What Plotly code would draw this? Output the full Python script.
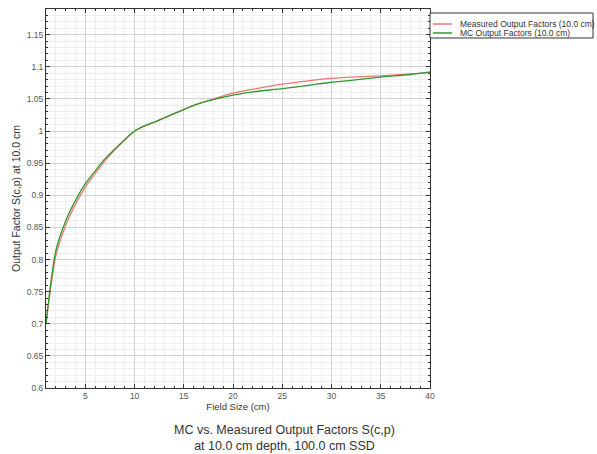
import plotly.graph_objects as go

# Field sizes (cm) and output factors S(c,p) at 10.0 cm depth
field_size = [1, 1.5, 2, 3, 4, 5, 6, 7, 8, 9, 10, 11, 12, 14, 16, 18, 20,
              22, 25, 28, 30, 32, 35, 38, 40]
measured_of = [0.700, 0.758, 0.806, 0.853, 0.886, 0.913, 0.934, 0.954, 0.971,
               0.986, 1.000, 1.008, 1.014, 1.027, 1.040, 1.050, 1.059,
               1.065, 1.073, 1.079, 1.082, 1.084, 1.086, 1.089, 1.091]
mc_of = [0.700, 0.765, 0.814, 0.860, 0.892, 0.918, 0.938, 0.957, 0.972,
         0.987, 1.000, 1.008, 1.014, 1.027, 1.040, 1.049, 1.056,
         1.061, 1.066, 1.072, 1.076, 1.079, 1.084, 1.088, 1.092]

series_names = ["Measured Output Factors (10.0 cm)", "MC Output Factors (10.0 cm)"]
series_colors = ["#ee7676", "#2f9a2f"]

font_family = "Liberation Sans, Arial, sans-serif"

fig = go.Figure()
for name, vals, color in zip(series_names, [measured_of, mc_of], series_colors):
    fig.add_trace(go.Scatter(
        x=field_size, y=vals, mode="lines", name=name, showlegend=False,
        line=dict(color=color, width=1.3, shape="spline", smoothing=0.6),
    ))

axis_common = dict(
    showline=True, linecolor="#333333", linewidth=1, mirror="allticks",
    ticks="inside", ticklen=4, tickcolor="#333333",
    showgrid=True, gridcolor="#d2d2d2", gridwidth=1,
    zeroline=False,
    tickfont=dict(family=font_family, size=8.5, color="#555555"),
)

fig.update_xaxes(
    range=[1, 40], tick0=0, dtick=5,
    minor=dict(dtick=1, ticks="inside", ticklen=2, tickcolor="#333333",
               showgrid=True, gridcolor="#eeeeee", gridwidth=1),
    title=dict(text="Field Size (cm)", font=dict(family=font_family, size=9.5, color="#333333"),
               standoff=3),
    **axis_common,
)
fig.update_yaxes(
    range=[0.6, 1.19], tick0=0.6, dtick=0.05,
    minor=dict(dtick=0.01, ticks="inside", ticklen=2, tickcolor="#333333",
               showgrid=True, gridcolor="#eeeeee", gridwidth=1),
    title=dict(text="Output Factor S(c,p) at 10.0 cm",
               font=dict(family=font_family, size=10.5, color="#333333"), standoff=4),
    **axis_common,
)

# Chart title beneath the axes
fig.add_annotation(
    text="MC vs. Measured Output Factors S(c,p)<br>at 10.0 cm depth, 100.0 cm SSD",
    xref="paper", yref="paper", x=0.62, y=-0.087, xanchor="center", yanchor="top",
    showarrow=False, align="center",
    font=dict(family=font_family, size=12.5, color="#333333"),
)

# Compact legend box to the right of the plot area
leg_x0, leg_x1 = 1.0, 1.4245
leg_y0, leg_y1 = 0.9235, 0.9894
fig.add_shape(type="rect", xref="paper", yref="paper",
              x0=leg_x0, x1=leg_x1, y0=leg_y0, y1=leg_y1,
              line=dict(color="#333333", width=1), fillcolor="white", layer="above")
for name, color, yy in zip(series_names, series_colors, [0.9604, 0.9367]):
    fig.add_shape(type="line", xref="paper", yref="paper",
                  x0=1.0078, x1=1.0573, y0=yy, y1=yy,
                  line=dict(color=color, width=1.5), layer="above")
    fig.add_annotation(text=name, xref="paper", yref="paper", x=1.0729, y=yy,
                       xanchor="left", yanchor="middle", showarrow=False,
                       font=dict(family=font_family, size=8.5, color="#333333"))

fig.update_layout(
    width=597, height=454,
    margin=dict(l=46, r=167, t=9, b=66),
    paper_bgcolor="white", plot_bgcolor="white",
    font=dict(family=font_family),
    showlegend=False,
)

fig.write_html("out.html")
